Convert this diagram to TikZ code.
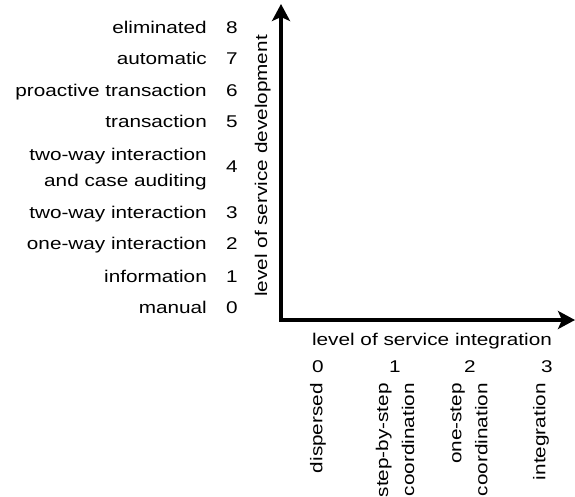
\documentclass[tikz,border=0pt]{standalone}
\usepackage{fontspec}
\setmainfont{Liberation Sans}[FakeStretch=1.22]
\usetikzlibrary{arrows.meta}
\begin{document}
\begin{tikzpicture}[x=1pt,y=-1pt,
  font=\fontsize{17}{26}\selectfont,
  lbl/.style={anchor=base east,inner sep=0pt,align=right},
  num/.style={anchor=base,inner sep=0pt},
  vlbl/.style={rotate=90,anchor=east,inner sep=0pt,align=right},
  axis/.style={line width=4pt,line join=miter,
    {Stealth[length=17pt,width=18pt,inset=4pt]}-{Stealth[length=17pt,width=18pt,inset=4pt]}}]
\useasboundingbox (0,0) rectangle (575,497);
\coordinate (origin) at (281,320);
\coordinate (ytip) at (281,4);
\coordinate (xtip) at (575,320);
\draw[axis] (ytip) -- (origin) -- (xtip);
%
\foreach \n/\txt/\y in {8/eliminated/34,7/automatic/65,6/proactive transaction/97,
5/transaction/128,3/two-way interaction/218,2/one-way interaction/249,
1/information/282,0/manual/313}
{\node[lbl] (dev\n) at (207,\y) {\txt};
 \node[num] (devnum\n) at (232,\y) {\n};}
\node[lbl] (dev4) at (207,186) {two-way interaction\\and case auditing};
\node[num] (devnum4) at (232,173) {4};
\node[rotate=90,anchor=base,inner sep=0pt] (devlabel) at (267,166) {level of service development};
%
\node[num] (intlabel) at (432,345) {level of service integration};
\foreach \n/\x in {0/318,1/395,2/470,3/547}
\node[num] (intnum\n) at (\x,372) {\n};
\node[vlbl] (int0) at (318,383) {dispersed};
\node[vlbl] (int1) at (395,383) {step-by-step\\coordination};
\node[vlbl] (int2) at (469,383) {one-step\\coordination};
\node[vlbl] (int3) at (541,383) {integration};
\end{tikzpicture}
\end{document}
